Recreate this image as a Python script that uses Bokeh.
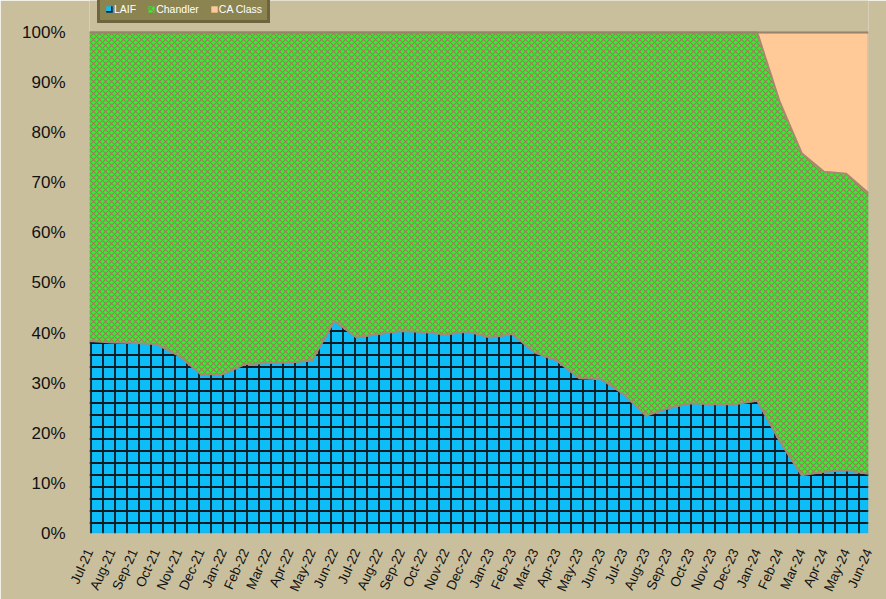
from bokeh.plotting import figure
from bokeh.models import (ColumnDataSource, Range1d, FixedTicker, PrintfTickFormatter,
                          Legend, LegendItem, BoxAnnotation)
from bokeh.embed import file_html
from bokeh.resources import INLINE

months = ["Jul-21", "Aug-21", "Sep-21", "Oct-21", "Nov-21", "Dec-21",
          "Jan-22", "Feb-22", "Mar-22", "Apr-22", "May-22", "Jun-22",
          "Jul-22", "Aug-22", "Sep-22", "Oct-22", "Nov-22", "Dec-22",
          "Jan-23", "Feb-23", "Mar-23", "Apr-23", "May-23", "Jun-23",
          "Jul-23", "Aug-23", "Sep-23", "Oct-23", "Nov-23", "Dec-23",
          "Jan-24", "Feb-24", "Mar-24", "Apr-24", "May-24", "Jun-24"]

laif = [38.4, 38.1, 38.0, 37.8, 35.5, 31.8, 31.8, 33.8, 34.0, 34.1, 34.5, 42.4,
        39.1, 39.8, 40.4, 40.2, 39.7, 40.3, 39.1, 39.8, 36.1, 34.5, 31.0, 30.8,
        27.8, 23.5, 25.0, 26.0, 25.8, 25.8, 26.5, 18.5, 11.6, 12.3, 12.6, 11.9]

chandler = [61.6, 61.9, 62.0, 62.2, 64.5, 68.2, 68.2, 66.2, 66.0, 65.9, 65.5, 57.6,
            60.9, 60.2, 59.6, 59.8, 60.3, 59.7, 60.9, 60.2, 63.9, 65.5, 69.0, 69.2,
            72.2, 76.5, 75.0, 74.0, 74.2, 74.2, 73.5, 67.8, 64.3, 59.9, 59.2, 56.0]

ca_class = [0, 0, 0, 0, 0, 0, 0, 0, 0, 0, 0, 0,
            0, 0, 0, 0, 0, 0, 0, 0, 0, 0, 0, 0,
            0, 0, 0, 0, 0, 0, 0, 13.7, 24.1, 27.8, 28.2, 32.1]

series = ["LAIF", "Chandler", "CA Class"]
y_ticks = [0, 10, 20, 30, 40, 50, 60, 70, 80, 90, 100]

BG = "#C9BF9D"
W, H = 886, 599
LEFT, RIGHT, BOTTOM = 89, 18, 64
PLOT_TOP = 32  # pixel gap above the 100% line (room for the legend)
frame_h = H - BOTTOM
y_top = 100 * frame_h / (frame_h - PLOT_TOP)

source = ColumnDataSource(dict(x=list(range(len(months))), LAIF=laif,
                               Chandler=chandler, **{"CA Class": ca_class}))

p = figure(width=W, height=H, output_backend="svg", toolbar_location=None,
           x_range=Range1d(0, len(months) - 1), y_range=Range1d(0, y_top),
           min_border_left=LEFT, min_border_right=RIGHT, min_border_bottom=BOTTOM,
           min_border_top=0)
p.background_fill_color = BG
p.border_fill_color = BG
p.outline_line_color = None
p.grid.visible = False

areas = p.varea_stack(stackers=series, x="x", source=source,
                      fill_color=["#0CBDF7", "#32EE32", "#FFCA98"],
                      hatch_pattern=["+", "x", " "],
                      hatch_color=["#101820", "#8C8650", "#FFCA98"],
                      hatch_scale=[12, 6, 12],
                      hatch_weight=[1.8, 1.1, 1])
p.vline_stack(stackers=series, x="x", source=source,
              line_color="#A8896E", line_width=2)

# plot-area border (0..100 %)
p.add_layout(BoxAnnotation(left=0, right=len(months) - 1, bottom=0, top=100,
                           fill_color=None, line_color="#7D7762", line_width=2))

p.xaxis.ticker = FixedTicker(ticks=list(range(len(months))))
p.xaxis.major_label_overrides = {i: m for i, m in enumerate(months)}
p.xaxis.major_label_orientation = 1.15
p.xaxis.major_label_text_font = "Liberation Sans"
p.xaxis.major_label_text_font_size = "13.5px"
p.xaxis.major_label_standoff = 10
p.yaxis.ticker = FixedTicker(ticks=y_ticks)
p.yaxis.formatter = PrintfTickFormatter(format="%d%%")
p.yaxis.major_label_text_font = "Liberation Sans"
p.yaxis.major_label_text_font_size = "17px"
p.yaxis.major_label_standoff = 18
for ax in (p.xaxis, p.yaxis):
    ax.axis_line_color = None
    ax.major_tick_line_color = None
    ax.minor_tick_line_color = None
    ax.major_label_text_color = "#111111"

legend = Legend(items=[LegendItem(label=s, renderers=[r]) for s, r in zip(series, areas)],
                orientation="horizontal", location=(8, frame_h - 25))
legend.label_text_font = "Liberation Sans"
legend.label_text_font_size = "10.5px"
legend.label_text_color = "white"
legend.label_height = 10
legend.label_standoff = 1
legend.glyph_width = 8
legend.glyph_height = 8
legend.spacing = 11
legend.padding = 5
legend.margin = 0
legend.background_fill_color = "#8C8450"
legend.background_fill_alpha = 1
legend.border_line_color = "#4B4530"
legend.border_line_width = 3
p.add_layout(legend, "center")

html = file_html(p, INLINE)
html = html.replace("<body>", '<body style="background:%s">' % BG, 1)
open("out.html", "w").write(html)
